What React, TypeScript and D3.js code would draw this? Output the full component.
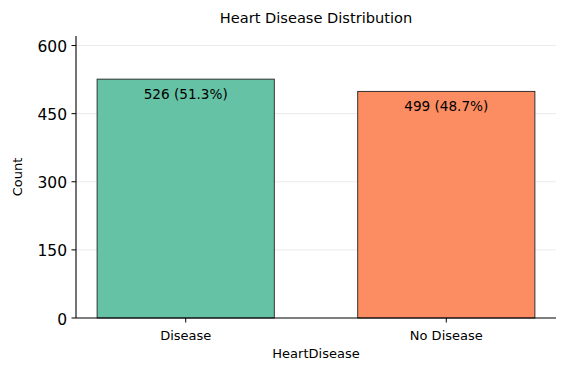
import React from "react";
import * as d3 from "d3";

const categories = ["Disease", "No Disease"];
const counts = [526, 499];
const colors = ["#66c2a5", "#fc8d62"];
const yTicks = [0, 150, 300, 450, 600];

const W = 568, H = 374;
const left = 76, right = 556, top = 36, bottom = 318;

export default function App() {
  const total = d3.sum(counts);
  const x = d3.scalePoint<string>().domain(categories).range([left, right]).padding(0.421);
  const y = d3.scaleLinear().domain([0, 621]).range([bottom, top]);
  const bw = x.step() * 0.68;
  const font = "DejaVu Sans, sans-serif";
  return (
    <svg width={W} height={H} style={{ position: "absolute", left: 0, top: 0, background: "#fff" }} fontFamily={font}>
      <text x={(left + right) / 2} y={23} textAnchor="middle" fontSize={14.6}>Heart Disease Distribution</text>
      {yTicks.filter(t => t > 0).map(t => (
        <line key={"g" + t} x1={left} x2={right} y1={y(t)} y2={y(t)} stroke="#ebebeb" strokeWidth={1} />
      ))}
      {categories.map((c, i) => (
        <g key={c}>
          <rect x={x(c)! - bw / 2} y={y(counts[i])} width={bw} height={bottom - y(counts[i])} fill={colors[i]} stroke="#222" strokeWidth={0.9} />
          <text x={x(c)!} y={y(counts[i]) + 19.5} textAnchor="middle" fontSize={13.6}>
            {`${counts[i]} (${((counts[i] / total) * 100).toFixed(1)}%)`}
          </text>
          <line x1={x(c)!} x2={x(c)!} y1={bottom} y2={bottom + 4.5} stroke="#000" />
          <text x={x(c)!} y={bottom + 22} textAnchor="middle" fontSize={13}>{c}</text>
        </g>
      ))}
      {yTicks.map(t => (
        <g key={t}>
          <line x1={left - 4.5} x2={left} y1={y(t)} y2={y(t)} stroke="#000" />
          <text x={left - 9} y={y(t) + 6.5} textAnchor="end" fontSize={15.5}>{t}</text>
        </g>
      ))}
      <line x1={left} x2={left} y1={top} y2={bottom} stroke="#000" strokeWidth={1.1} />
      <line x1={left} x2={right} y1={bottom} y2={bottom} stroke="#000" strokeWidth={1.1} />
      <text x={(left + right) / 2} y={358} textAnchor="middle" fontSize={13}>HeartDisease</text>
      <text transform={`translate(22,${(top + bottom) / 2}) rotate(-90)`} textAnchor="middle" fontSize={13}>Count</text>
    </svg>
  );
}
